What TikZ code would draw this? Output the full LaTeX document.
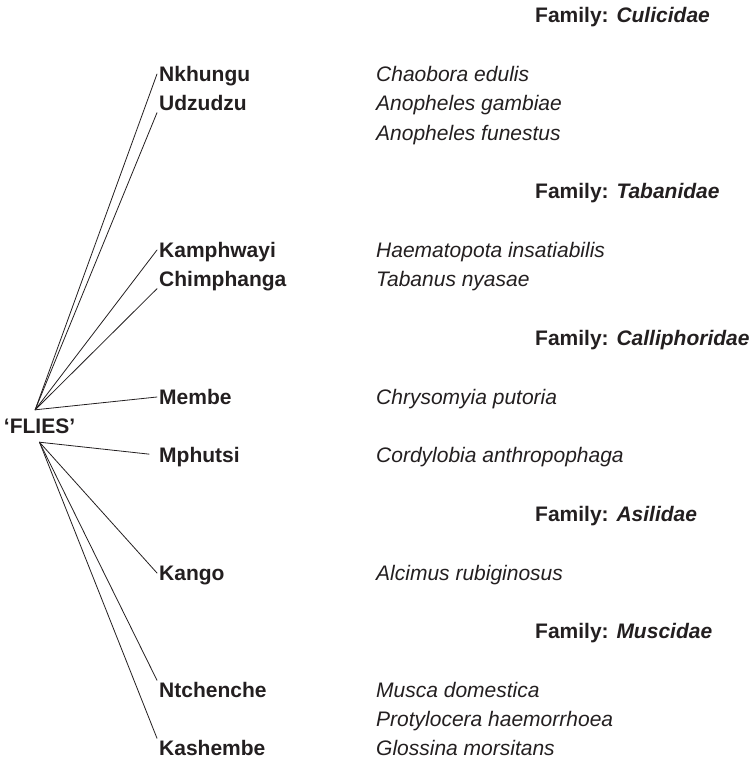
\documentclass[tikz,border=0pt]{standalone}
\usepackage{fontspec}
\setmainfont{Liberation Sans}
\usepackage{tikz}
\usetikzlibrary{positioning}
\definecolor{ink}{RGB}{35,31,32}

\begin{document}
\begin{tikzpicture}[x=1pt,y=-1pt,line cap=round,line join=round,
  every node/.style={text=ink,inner sep=2pt,text height=15pt,text depth=0pt,
    font=\fontsize{21}{25}\selectfont},
  local/.style={anchor=west,font=\fontsize{21}{25}\selectfont\bfseries},
  latin/.style={anchor=west,font=\fontsize{21}{25}\selectfont\itshape},
  family/.style={anchor=west,font=\fontsize{21}{25}\selectfont\bfseries},
  link/.style={draw=ink,line width=0.8pt}]
  \useasboundingbox (0,0) rectangle (751,760);
  % root
  \node[font=\fontsize{21}{25}\selectfont\bfseries,inner ysep=8.5pt] (flies) at (39.5,426) {‘FLIES’};
  % families
  \node[family] (culicidae) at (533,15) {Family: \textit{Culicidae}};
  \node[family] (tabanidae) at (533,191) {Family: \textit{Tabanidae}};
  \node[family] (calliphoridae) at (533,338) {Family: \textit{Calliphoridae}};
  \node[family] (asilidae) at (533,514) {Family: \textit{Asilidae}};
  \node[family] (muscidae) at (533,631) {Family: \textit{Muscidae}};
  % local names
  \node[local] (nkhungu) at (157,74) {Nkhungu};
  \node[local] (udzudzu) at (157,103) {Udzudzu};
  \node[local] (kamphwayi) at (157,250) {Kamphwayi};
  \node[local] (chimphanga) at (157,279) {Chimphanga};
  \node[local] (membe) at (157,397) {Membe};
  \node[local] (mphutsi) at (157,455) {Mphutsi};
  \node[local] (kango) at (157,573) {Kango};
  \node[local] (ntchenche) at (157,690) {Ntchenche};
  \node[local] (kashembe) at (157,748) {Kashembe};
  % species
  \node[latin] (chaobora) at (374,74) {Chaobora edulis};
  \node[latin] (gambiae) at (374,103) {Anopheles gambiae};
  \node[latin] (funestus) at (374,133) {Anopheles funestus};
  \node[latin] (haematopota) at (374,250) {Haematopota insatiabilis};
  \node[latin] (tabanus) at (374,279) {Tabanus nyasae};
  \node[latin] (chrysomyia) at (374,397) {Chrysomyia putoria};
  \node[latin] (cordylobia) at (374,455) {Cordylobia anthropophaga};
  \node[latin] (alcimus) at (374,573) {Alcimus rubiginosus};
  \node[latin] (musca) at (374,690) {Musca domestica};
  \node[latin] (protylocera) at (374,719) {Protylocera haemorrhoea};
  \node[latin] (glossina) at (374,748) {Glossina morsitans};
  % branches
  \draw[link] (flies.105) -- (nkhungu.west);
  \draw[link] (flies.105) -- (udzudzu.south west);
  \draw[link] (flies.105) -- (kamphwayi.west);
  \draw[link] (flies.105) -- (chimphanga.south west);
  \draw[link] (flies.105) -- (membe.west);
  \draw[link,shorten >=8pt] (flies.south) -- (mphutsi.west);
  \draw[link] (flies.south) -- (kango.west);
  \draw[link] (flies.south) -- (ntchenche.north west);
  \draw[link] (flies.south) -- (kashembe.north west);
\end{tikzpicture}
\end{document}
